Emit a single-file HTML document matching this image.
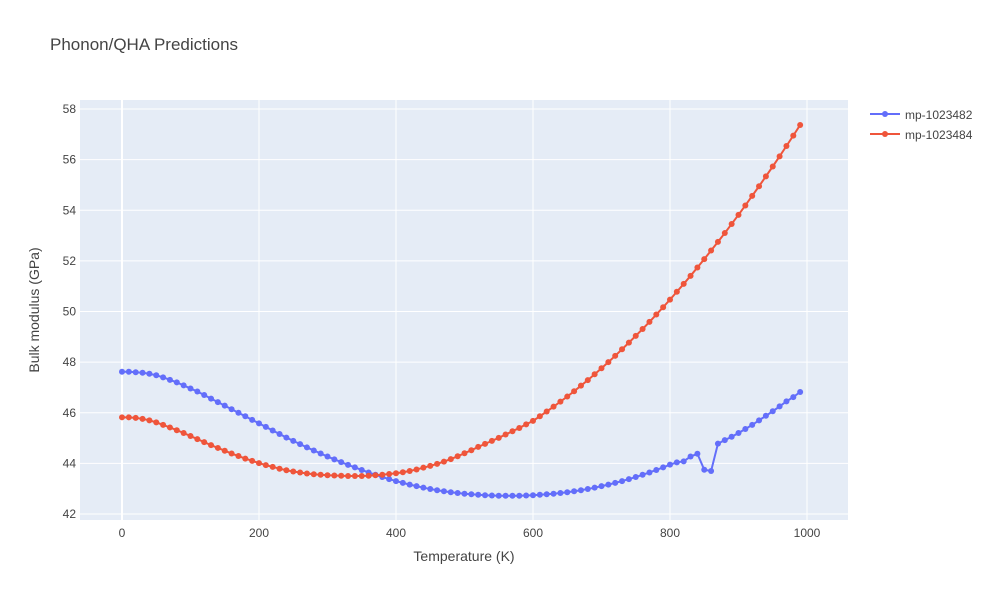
<!DOCTYPE html>
<html><head><meta charset="utf-8"><style>
body{margin:0;background:#fff;font-family:"Liberation Sans",sans-serif;}
svg text{font-family:"Liberation Sans",sans-serif;}
</style></head><body>
<svg id="chart" width="1000" height="600">
<rect x="0" y="0" width="1000" height="600" fill="#fff"/>
<text x="50" y="50" font-size="17" fill="#444">Phonon/QHA Predictions</text>
<rect x="80" y="100" width="768" height="420" fill="#e5ecf6"/>
<g id="grid"></g><g id="series"></g><g id="ticks"></g>
<text x="464" y="561" font-size="14" fill="#444" text-anchor="middle">Temperature (K)</text>
<text transform="translate(39,310) rotate(-90)" font-size="14" fill="#444" text-anchor="middle">Bulk modulus (GPa)</text>
<g>
<g>
<line x1="870" y1="114" x2="900" y2="114" stroke="#636efa" stroke-width="2"/><circle cx="885" cy="114" r="3" fill="#636efa"/>
<text x="905" y="119" font-size="12" fill="#444">mp-1023482</text></g>
<g>
<line x1="870" y1="134" x2="900" y2="134" stroke="#ef553b" stroke-width="2"/><circle cx="885" cy="134" r="3" fill="#ef553b"/>
<text x="905" y="139" font-size="12" fill="#444">mp-1023484</text></g>
</g>
</svg>
<script>
const temps=[0,10,20,30,40,50,60,70,80,90,100,110,120,130,140,150,160,170,180,190,200,210,220,230,240,250,260,270,280,290,300,310,320,330,340,350,360,370,380,390,400,410,420,430,440,450,460,470,480,490,500,510,520,530,540,550,560,570,580,590,600,610,620,630,640,650,660,670,680,690,700,710,720,730,740,750,760,770,780,790,800,810,820,830,840,850,860,870,880,890,900,910,920,930,940,950,960,970,980,990];
const blueVals=[47.62,47.62,47.6,47.58,47.54,47.48,47.4,47.3,47.2,47.08,46.96,46.84,46.7,46.56,46.42,46.28,46.14,46.0,45.86,45.72,45.58,45.44,45.3,45.16,45.02,44.89,44.76,44.63,44.51,44.39,44.27,44.16,44.05,43.94,43.84,43.74,43.64,43.55,43.46,43.38,43.3,43.23,43.16,43.1,43.04,42.99,42.94,42.9,42.86,42.83,42.8,42.78,42.76,42.74,42.73,42.72,42.72,42.72,42.72,42.73,42.74,42.76,42.78,42.8,42.83,42.86,42.9,42.94,42.99,43.04,43.1,43.16,43.23,43.3,43.38,43.46,43.55,43.64,43.74,43.84,43.95,44.04,44.08,44.27,44.38,43.75,43.7,44.78,44.92,45.05,45.2,45.36,45.52,45.7,45.88,46.06,46.25,46.45,46.62,46.82];
const redVals=[45.82,45.82,45.8,45.76,45.7,45.62,45.52,45.42,45.31,45.2,45.08,44.96,44.84,44.72,44.61,44.5,44.39,44.29,44.19,44.1,44.01,43.93,43.86,43.79,43.73,43.68,43.64,43.6,43.57,43.55,43.53,43.52,43.51,43.5,43.5,43.5,43.51,43.53,43.55,43.58,43.61,43.65,43.7,43.76,43.83,43.9,43.98,44.07,44.17,44.28,44.4,44.52,44.65,44.77,44.89,45.01,45.14,45.27,45.4,45.54,45.68,45.86,46.05,46.24,46.44,46.64,46.85,47.07,47.29,47.52,47.76,48.0,48.25,48.51,48.77,49.04,49.31,49.59,49.88,50.17,50.47,50.78,51.09,51.41,51.74,52.07,52.41,52.75,53.1,53.46,53.82,54.19,54.57,54.95,55.34,55.73,56.13,56.54,56.95,57.37];
const xTicks=[0,200,400,600,800,1000];
const yTicks=[42,44,46,48,50,52,54,56,58];
const NS="http://www.w3.org/2000/svg";
function xs(v){return 122+v*0.685;}
function ys(v){return 514-(v-42)*25.31;}
const grid=document.getElementById('grid'),ticks=document.getElementById('ticks'),ser=document.getElementById('series');
xTicks.forEach(t=>{
 const l=document.createElementNS(NS,'line');
 
 
 l.setAttribute('x1',xs(t));l.setAttribute('x2',xs(t));l.setAttribute('y1',100);l.setAttribute('y2',520);
 l.setAttribute('stroke','#fff');l.setAttribute('stroke-width',t===0?2:1);grid.appendChild(l);
 const tx=document.createElementNS(NS,'text');
 
 
 tx.setAttribute('x',xs(t));tx.setAttribute('y',537);tx.setAttribute('font-size','12');tx.setAttribute('fill','#444');tx.setAttribute('text-anchor','middle');
 tx.textContent=t;ticks.appendChild(tx);
});
yTicks.forEach(t=>{
 const l=document.createElementNS(NS,'line');
 
 
 l.setAttribute('x1',80);l.setAttribute('x2',848);l.setAttribute('y1',ys(t));l.setAttribute('y2',ys(t));
 l.setAttribute('stroke','#fff');grid.appendChild(l);
 const tx=document.createElementNS(NS,'text');
 
 
 tx.setAttribute('x',76);tx.setAttribute('y',ys(t)+4);tx.setAttribute('font-size','12');tx.setAttribute('fill','#444');tx.setAttribute('text-anchor','end');
 tx.textContent=t;ticks.appendChild(tx);
});
function drawSeries(vals,color,name){
 const g=document.createElementNS(NS,'g');
 
 
 const p=document.createElementNS(NS,'polyline');
 
 
 p.setAttribute('points',vals.map((v,i)=>xs(temps[i])+','+ys(v)).join(' '));
 p.setAttribute('fill','none');p.setAttribute('stroke',color);p.setAttribute('stroke-width','2');g.appendChild(p);
 vals.forEach((v,i)=>{
  const c=document.createElementNS(NS,'circle');
  
  
  c.setAttribute('cx',xs(temps[i]));c.setAttribute('cy',ys(v));c.setAttribute('r','3');c.setAttribute('fill',color);g.appendChild(c);
 });
 ser.appendChild(g);
}
drawSeries(blueVals,'#636efa','series-mp-1023482');
drawSeries(redVals,'#ef553b','series-mp-1023484');
</script>
</body></html>
